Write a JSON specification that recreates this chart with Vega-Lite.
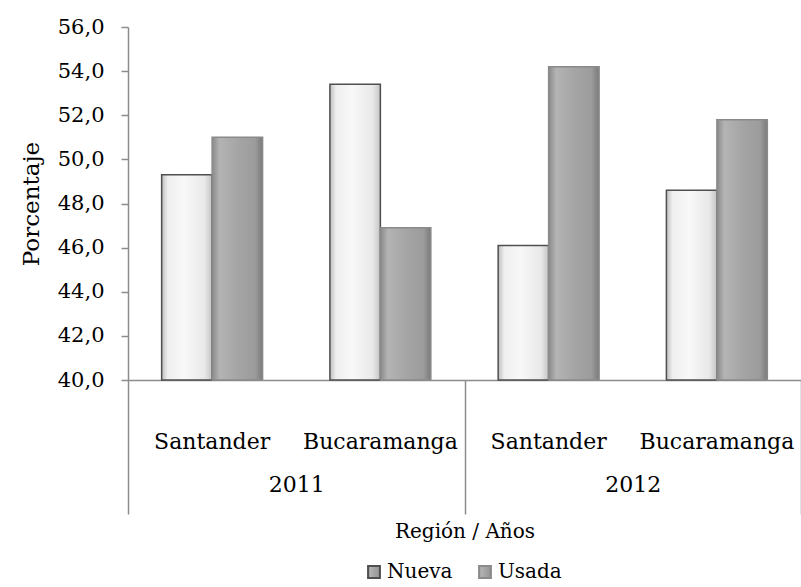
{
  "$schema": "https://vega.github.io/schema/vega-lite/v6.json",
  "width": 673,
  "height": 353,
  "autosize": {"type": "none"},
  "padding": {"left": 128, "top": 27, "right": 0, "bottom": 207},
  "background": "white",
  "config": {
    "view": {"stroke": null},
    "font": "DejaVu Serif",
    "axis": {
      "labelFont": "DejaVu Serif",
      "titleFont": "DejaVu Serif",
      "labelFontSize": 22,
      "titleFontSize": 20,
      "titleFontWeight": "normal",
      "labelColor": "#000000",
      "titleColor": "#000000",
      "domainColor": "#8c8c8c",
      "domainWidth": 1.5,
      "tickColor": "#8c8c8c",
      "tickWidth": 1.5,
      "grid": false
    },
    "legend": {
      "labelFont": "DejaVu Serif",
      "labelFontSize": 20,
      "labelColor": "#000000"
    }
  },
  "data": {
    "values": [
      {"anio": "2011", "region": "Santander", "grupo": "2011|Santander", "tipo": "Nueva", "valor": 49.3},
      {"anio": "2011", "region": "Santander", "grupo": "2011|Santander", "tipo": "Usada", "valor": 51.0},
      {"anio": "2011", "region": "Bucaramanga", "grupo": "2011|Bucaramanga", "tipo": "Nueva", "valor": 53.4},
      {"anio": "2011", "region": "Bucaramanga", "grupo": "2011|Bucaramanga", "tipo": "Usada", "valor": 46.9},
      {"anio": "2012", "region": "Santander", "grupo": "2012|Santander", "tipo": "Nueva", "valor": 46.1},
      {"anio": "2012", "region": "Santander", "grupo": "2012|Santander", "tipo": "Usada", "valor": 54.2},
      {"anio": "2012", "region": "Bucaramanga", "grupo": "2012|Bucaramanga", "tipo": "Nueva", "valor": 48.6},
      {"anio": "2012", "region": "Bucaramanga", "grupo": "2012|Bucaramanga", "tipo": "Usada", "valor": 51.8}
    ]
  },
  "layer": [
    {
      "mark": {"type": "bar", "strokeWidth": 1.5},
      "encoding": {
        "x": {
          "field": "grupo",
          "type": "nominal",
          "sort": null,
          "scale": {"type": "band", "paddingInner": 0.4, "paddingOuter": 0.2},
          "axis": {
            "orient": "bottom",
            "title": null,
            "labelExpr": "split(datum.value, '|')[1]",
            "ticks": false,
            "labelPadding": 51,
            "labelAngle": 0,
            "labelOverlap": false
          }
        },
        "xOffset": {"field": "tipo", "sort": ["Nueva", "Usada"]},
        "y": {
          "field": "valor",
          "type": "quantitative",
          "scale": {"domain": [40, 56], "zero": false, "nice": false},
          "axis": {
            "title": "Porcentaje",
            "values": [40, 42, 44, 46, 48, 50, 52, 54, 56],
            "labelExpr": "replace(format(datum.value, '.1f'), '.', ',')",
            "labelFontSize": 21,
            "titleFontSize": 23,
            "tickSize": 7,
            "labelPadding": 17,
            "titlePadding": 14
          }
        },
        "y2": {"datum": 40},
        "stroke": {
          "field": "tipo",
          "type": "nominal",
          "sort": ["Nueva", "Usada"],
          "scale": {"range": ["#4f4f4f", "#8a8a8a"]},
          "legend": {
            "orient": "none",
            "legendX": 236,
            "legendY": 535,
            "direction": "horizontal",
            "title": null,
            "symbolType": "square",
            "symbolSize": 140,
            "symbolStrokeWidth": 2,
            "symbolFillColor": "#d9d9d9",
            "columnPadding": 22,
            "labelOffset": 3
          }
        },
        "fill": {
          "condition": {
            "test": "datum.tipo === 'Nueva'",
            "value": {
              "gradient": "linear",
              "x1": 0, "y1": 0, "x2": 1, "y2": 0,
              "stops": [
                {"offset": 0, "color": "#bdbdbd"},
                {"offset": 0.12, "color": "#efefef"},
                {"offset": 0.45, "color": "#f8f8f8"},
                {"offset": 0.85, "color": "#e8e8e8"},
                {"offset": 1, "color": "#c4c4c4"}
              ]
            }
          },
          "value": {
            "gradient": "linear",
            "x1": 0, "y1": 0, "x2": 1, "y2": 0,
            "stops": [
              {"offset": 0, "color": "#8a8a8a"},
              {"offset": 0.15, "color": "#b4b4b4"},
              {"offset": 0.5, "color": "#a5a5a5"},
              {"offset": 0.85, "color": "#9c9c9c"},
              {"offset": 1, "color": "#7a7a7a"}
            ]
          }
        }
      }
    },
    {
      "mark": {"type": "rule", "opacity": 0},
      "encoding": {
        "x": {
          "field": "anio",
          "type": "nominal",
          "scale": {"type": "band", "paddingInner": 0, "paddingOuter": 0},
          "axis": {
            "orient": "bottom",
            "title": "Región / Años",
            "tickBand": "extent",
            "tickSize": 134,
            "labelPadding": -40,
            "domain": false,
            "labelAngle": 0,
            "titlePadding": 7
          }
        }
      }
    }
  ],
  "resolve": {"scale": {"x": "independent"}}
}
